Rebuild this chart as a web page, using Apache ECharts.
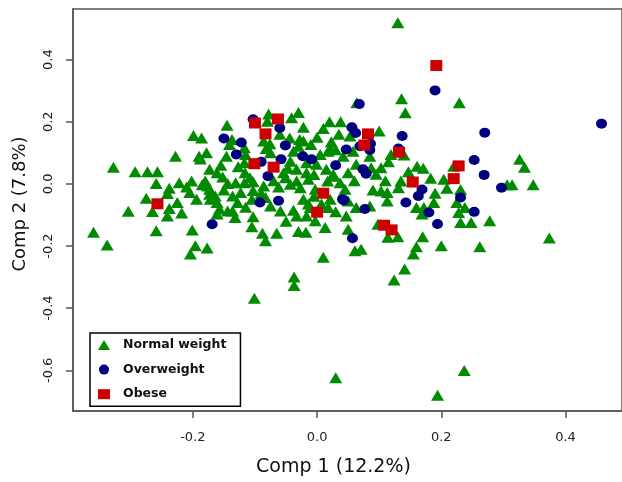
<!DOCTYPE html>
<html>
<head>
<meta charset="utf-8">
<script src="https://cdn.jsdelivr.net/npm/echarts@6/dist/echarts.min.js"></script>
<style>
html,body{margin:0;padding:0;background:#fff;}
#chart{width:622px;height:482px;}
</style>
</head>
<body>
<div id="chart"></div>
<script>
const categories = ['Normal weight', 'Overweight', 'Obese'];
const xTicks = [-0.2, 0.0, 0.2, 0.4];
const yTicks = [-0.6, -0.4, -0.2, 0.0, 0.2, 0.4];
const xTitle = 'Comp 1 (12.2%)';
const yTitle = 'Comp 2 (7.8%)';

const normalWeight = [
[-0.360,-0.156],[-0.338,-0.197],[-0.304,-0.088],[-0.328,0.054],
[-0.145,0.189],[-0.199,0.156],[-0.186,0.148],[-0.228,0.089],[-0.190,0.089],[-0.178,0.100],[-0.137,0.143],[-0.141,0.127],[-0.146,0.089],[-0.117,0.116],[-0.115,0.095],[-0.117,0.068],[-0.173,0.047],[-0.161,0.036],[-0.293,0.039],[-0.273,0.039],[-0.257,0.039],[-0.188,0.080],[-0.152,0.022],[-0.116,0.036],[-0.108,0.020],[-0.127,0.055],
[-0.259,0.001],[-0.275,-0.046],[-0.265,-0.089],[-0.259,-0.151],[-0.238,-0.014],[-0.241,-0.031],[-0.222,0.004],[-0.225,-0.060],[-0.238,-0.079],[-0.241,-0.103],[-0.218,-0.094],[-0.202,0.009],[-0.205,-0.028],[-0.194,-0.049],[-0.201,-0.148],[-0.196,-0.199],[-0.204,-0.226],[-0.177,-0.206],[-0.180,0.009],[-0.185,-0.003],[-0.176,-0.007],[-0.173,-0.017],[-0.164,-0.039],[-0.161,-0.060],[-0.157,-0.081],[-0.161,-0.097],[-0.144,-0.087],[-0.136,-0.087],[-0.132,-0.108],[-0.136,-0.039],[-0.123,-0.028],[-0.144,0.001],[-0.131,0.004],[-0.117,0.004],[-0.103,0.007],[-0.103,-0.021],[-0.105,-0.049],[-0.103,-0.106],[-0.105,-0.138],[-0.173,-0.033],[-0.172,-0.049],
[-0.078,0.225],[-0.030,0.230],[-0.041,0.213],[-0.080,0.202],[-0.022,0.182],[0.010,0.178],[0.020,0.200],[0.038,0.200],[0.100,0.170],[0.053,0.154],[-0.086,0.138],[-0.076,0.129],[-0.082,0.114],[-0.044,0.148],[-0.028,0.143],[-0.022,0.138],[-0.010,0.127],[-0.030,0.121],[0.023,0.136],[0.021,0.116],[0.018,0.105],[0.005,0.095],[-0.038,0.105],[-0.075,0.100],[-0.043,0.073],[-0.017,0.068],[-0.001,0.063],[0.015,0.047],[0.042,0.089],[0.058,0.105],[0.063,0.063],[0.085,0.089],[0.087,0.052],[0.103,0.052],[0.095,0.031],[-0.054,0.036],[-0.017,0.036],[-0.033,0.047],[0.026,0.031],[0.050,0.036],[0.064,0.261],
[-0.086,-0.007],[-0.075,-0.071],[-0.059,-0.087],[-0.038,-0.085],[-0.033,-0.103],[-0.022,-0.049],[-0.014,-0.065],[-0.017,-0.103],[-0.003,-0.119],[0.013,-0.140],[-0.030,-0.153],[-0.018,-0.156],[-0.065,-0.159],[-0.088,-0.159],[-0.083,-0.183],[0.010,-0.236],[-0.051,0.020],[-0.043,-0.001],[-0.033,0.009],[-0.027,-0.012],[-0.014,0.015],[-0.003,-0.017],[0.017,0.009],[0.026,0.025],[0.037,0.004],[0.045,-0.017],[0.050,-0.055],[0.021,-0.049],[0.007,-0.065],[0.018,-0.076],[-0.011,-0.076],[0.047,-0.103],[0.050,-0.146],[0.063,-0.076],[0.085,-0.071],[0.103,-0.023],[0.098,-0.130],[0.061,-0.215],[0.071,-0.210],[-0.083,-0.044],[0.090,-0.020],[-0.070,0.010],[-0.062,-0.010],
[0.135,0.009],[0.131,-0.012],[0.113,-0.028],[0.113,-0.055],[0.183,0.018],[0.204,0.015],[0.209,-0.014],[0.231,-0.018],[0.225,-0.060],[0.188,-0.060],[0.160,-0.076],[0.172,-0.076],[0.169,-0.097],[0.238,-0.076],[0.228,-0.092],[0.231,-0.124],[0.248,-0.124],[0.278,-0.119],[0.114,-0.172],[0.130,-0.170],[0.170,-0.170],[0.160,-0.202],[0.155,-0.226],[0.200,-0.199],[0.262,-0.202],
[0.136,0.274],[0.142,0.229],[0.229,0.261],[0.119,0.095],[0.140,0.093],[0.115,0.071],[0.161,0.057],[0.171,0.050],[0.147,0.039],[0.220,0.057],
[0.130,0.519],[0.326,0.079],[0.334,0.054],[0.348,-0.003],[0.306,-0.003],[0.314,-0.003],[0.374,-0.174],[0.141,-0.274],[0.124,-0.309],[0.030,-0.624],[0.237,-0.601],[0.194,-0.680],[-0.037,-0.300],[-0.037,-0.327],[-0.101,-0.368],
[-0.150,-0.020],[-0.128,-0.060],[-0.115,-0.075],[-0.090,-0.030],[-0.047,0.050],[-0.005,0.030],[0.030,0.110],[0.000,0.150],[0.035,0.160],[-0.060,0.160],[0.110,0.010],[0.060,0.010],[-0.005,-0.040],[0.030,-0.090],[-0.050,-0.120],[0.190,-0.030],[-0.210,-0.010],[-0.155,0.060]
];

const overweight = [
[-0.150,0.146],[-0.122,0.133],[-0.130,0.095],[-0.103,0.208],[-0.060,0.180],[-0.051,0.124],[-0.058,0.079],[-0.090,0.071],[-0.079,0.025],[-0.023,0.089],[-0.009,0.079],[0.030,0.060],[0.068,0.257],[0.056,0.182],[0.062,0.164],[0.047,0.111],[0.069,0.121],[0.086,0.129],[0.085,0.109],[0.074,0.047],[0.079,0.033],[0.137,0.154],[0.131,0.114],[0.190,0.301],[0.270,0.165],[0.458,0.194],[0.253,0.077],[0.269,0.029],[0.297,-0.012],[0.231,-0.044],[0.253,-0.090],[0.194,-0.129],[0.180,-0.092],[0.143,-0.060],[0.163,-0.039],[0.169,-0.018],[0.077,-0.081],[0.041,-0.049],[0.057,-0.175],[-0.169,-0.130],[-0.092,-0.060],[-0.062,-0.054],[0.043,-0.053]
];

const obese = [
[-0.100,0.196],[-0.063,0.209],[-0.083,0.161],[-0.101,0.065],[-0.070,0.054],[-0.257,-0.064],[0.082,0.161],[0.076,0.125],[0.132,0.102],[0.192,0.381],[0.228,0.058],[0.220,0.017],[0.154,0.006],[0.010,-0.030],[0.000,-0.091],[0.108,-0.133],[0.120,-0.148]
];

const FONT = 'DejaVu Sans';
const chart = echarts.init(document.getElementById('chart'), null, {renderer: 'canvas'});
const fmt = v => (Math.abs(v) < 1e-9 ? 0 : v).toFixed(1);

chart.setOption({
  animation: false,
  backgroundColor: '#fff',
  grid: {left: 73, top: 9, width: 553, height: 404, show: true, borderColor: '#555', borderWidth: 1.5},
  legend: {
    orient: 'vertical', left: 90, top: 333,
    itemWidth: 12, itemHeight: 10, itemGap: 10.6,
    padding: [5, 14, 5, 8],
    borderColor: '#000', borderWidth: 1.5, backgroundColor: '#fff',
    selectedMode: false,
    textStyle: {fontFamily: FONT, fontSize: 12.5, fontWeight: 'bold', color: '#111', lineHeight: 14, padding: [0, 0, 0, 8]},
    data: [
      {name: categories[0], icon: 'triangle'},
      {name: categories[1], icon: 'circle'},
      {name: categories[2], icon: 'rect'}
    ]
  },
  xAxis: {
    type: 'value', min: -0.393, max: 0.491,
    name: xTitle, nameLocation: 'middle', nameGap: 47,
    nameTextStyle: {fontFamily: FONT, fontSize: 19, color: '#111', padding: [0, 28, 0, 0]},
    axisLine: {show: true, onZero: false, lineStyle: {color: '#555', width: 1.5}},
    axisTick: {show: true, length: 7, customValues: xTicks, lineStyle: {color: '#555', width: 1.5}},
    axisLabel: {customValues: xTicks, formatter: fmt, margin: 20, fontFamily: FONT, fontSize: 13, color: '#222'},
    splitLine: {show: false}
  },
  yAxis: {
    type: 'value', min: -0.731, max: 0.563,
    name: yTitle, nameLocation: 'middle', nameGap: 44, nameRotate: 90,
    nameTextStyle: {fontFamily: FONT, fontSize: 18, color: '#111', padding: [0, 0, 0, 12]},
    axisLine: {show: true, onZero: false, lineStyle: {color: '#555', width: 1.5}},
    axisTick: {show: true, length: 7, customValues: yTicks, lineStyle: {color: '#555', width: 1.5}},
    axisLabel: {customValues: yTicks, formatter: fmt, rotate: 90, margin: 18, fontFamily: FONT, fontSize: 13, color: '#222'},
    splitLine: {show: false}
  },
  series: [
    {name: categories[0], type: 'scatter', data: normalWeight, symbol: 'triangle', symbolSize: [13, 11], itemStyle: {color: '#008B00', opacity: 1}},
    {name: categories[1], type: 'scatter', data: overweight, symbol: 'circle', symbolSize: [11, 10], itemStyle: {color: '#00007F', opacity: 1}},
    {name: categories[2], type: 'scatter', data: obese, symbol: 'rect', symbolSize: [12, 11], itemStyle: {color: '#CC0000', opacity: 1}}
  ]
});
</script>
</body>
</html>
